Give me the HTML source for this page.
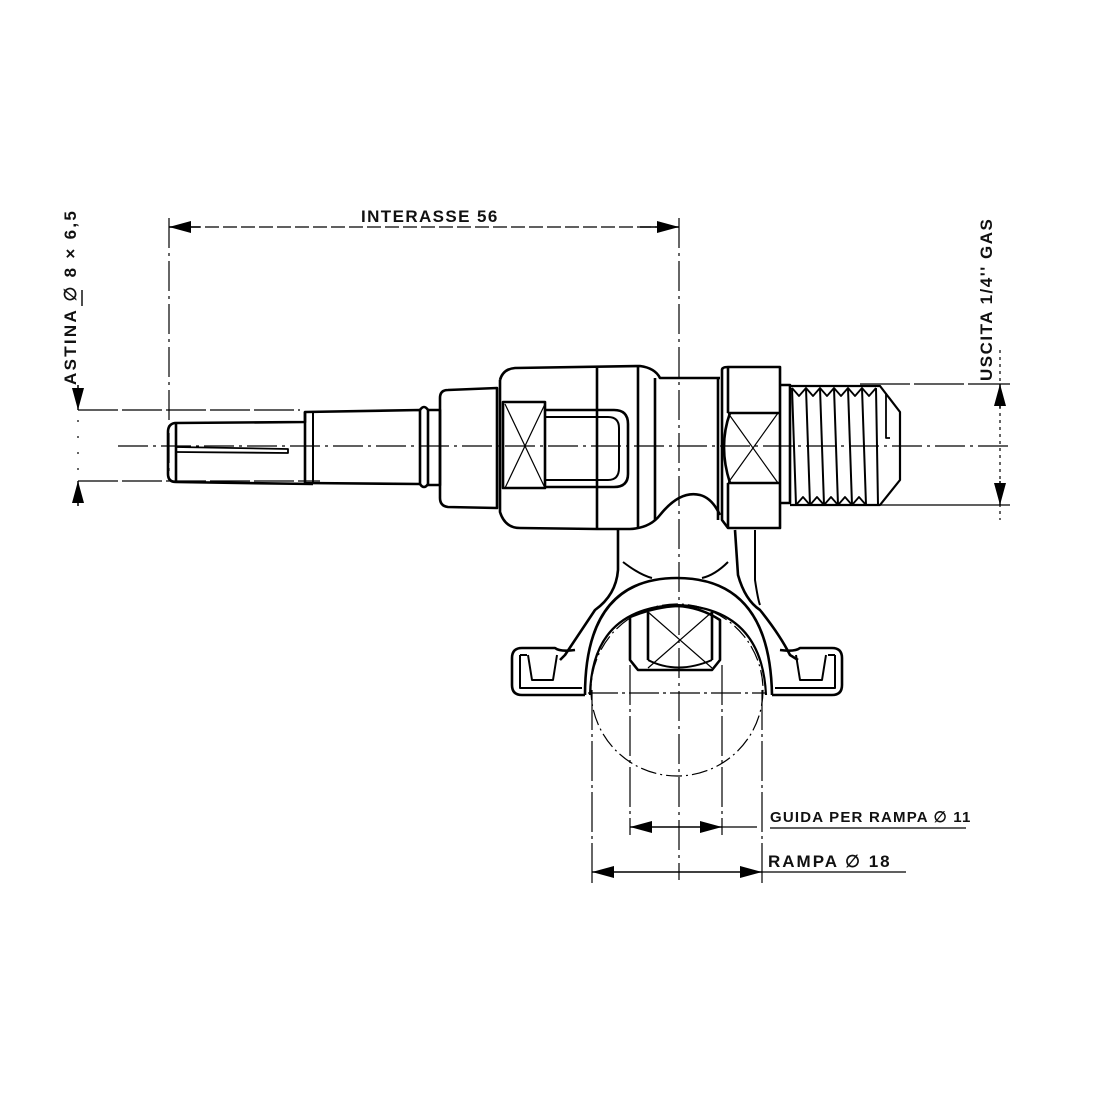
<!DOCTYPE html>
<html><head><meta charset="utf-8"><style>
html,body{margin:0;padding:0;background:#fff}
svg{display:block}
text{font-family:"Liberation Sans",sans-serif;font-weight:bold;fill:#111}
</style></head><body>
<svg width="1100" height="1100" viewBox="0 0 1100 1100" xmlns="http://www.w3.org/2000/svg">
<defs>
<marker id="ar" viewBox="0 0 22 12" refX="22" refY="6" markerWidth="22" markerHeight="12" markerUnits="userSpaceOnUse" orient="auto"><path d="M0,0 L22,6 L0,12 Z" fill="#000"/></marker>
</defs>
<g fill="none" stroke="#000">
<g stroke-width="1.2">
<line x1="169" y1="227" x2="678" y2="227" stroke-dasharray="14,4"/>
<line x1="169" y1="218" x2="169" y2="480" stroke-dasharray="30,5,3,5"/>
<line x1="679" y1="218" x2="679" y2="880" stroke-dasharray="30,5,3,5"/>
<line x1="118" y1="446" x2="1010" y2="446" stroke-dasharray="30,5,3,5"/>
<line x1="78" y1="410" x2="300" y2="410" stroke-dasharray="40,4"/>
<line x1="78" y1="481" x2="320" y2="481" stroke-dasharray="40,4"/>
<line x1="78" y1="420" x2="78" y2="470" stroke-dasharray="2,14"/>
<line x1="860" y1="384" x2="1010" y2="384" stroke-dasharray="50,4"/>
<line x1="860" y1="505" x2="1010" y2="505"/>
<line x1="1000" y1="350" x2="1000" y2="520" stroke-dasharray="3,4"/>
<circle cx="677" cy="690" r="86" stroke-dasharray="16,4,2,4"/>
<line x1="588" y1="693" x2="766" y2="693" stroke-dasharray="30,4,3,4"/>
<line x1="592" y1="690" x2="592" y2="885" stroke-dasharray="40,4,3,4"/>
<line x1="762" y1="690" x2="762" y2="885" stroke-dasharray="40,4,3,4"/>
<line x1="630" y1="665" x2="630" y2="835" stroke-dasharray="40,4,3,4"/>
<line x1="722" y1="665" x2="722" y2="835" stroke-dasharray="40,4,3,4"/>
<line x1="722" y1="827" x2="757" y2="827"/>
<line x1="770" y1="828" x2="966" y2="828"/>
<line x1="762" y1="872" x2="906" y2="872"/>
<path d="M505,404 L545,488 M545,404 L505,488"/>
<path d="M728,413 L778,483 M778,413 L728,483"/>
<path d="M648,612 L712,668 M712,612 L648,668"/>
</g>
<g stroke-width="1.5">
<line x1="200" y1="227" x2="169" y2="227" marker-end="url(#ar)"/>
<line x1="640" y1="227" x2="679" y2="227" marker-end="url(#ar)"/>
<line x1="78" y1="385" x2="78" y2="410" marker-end="url(#ar)"/>
<line x1="78" y1="506" x2="78" y2="481" marker-end="url(#ar)"/>
<line x1="1000" y1="408" x2="1000" y2="384" marker-end="url(#ar)"/>
<line x1="1000" y1="481" x2="1000" y2="505" marker-end="url(#ar)"/>
<line x1="676" y1="827" x2="630" y2="827" marker-end="url(#ar)"/>
<line x1="676" y1="827" x2="722" y2="827" marker-end="url(#ar)"/>
<line x1="677" y1="872" x2="592" y2="872" marker-end="url(#ar)"/>
<line x1="677" y1="872" x2="762" y2="872" marker-end="url(#ar)"/>
</g>
<g stroke-width="2.6" stroke-linejoin="round">
<path d="M305,412 L305,422 L175,423 Q168,424 168,432 L168,474 Q168,482 176,482 L313,484"/>
<path d="M176,423 L176,482"/>
<path d="M176,447 L288,449 L288,453 L176,452" stroke-width="1.8"/>
<path d="M305,412 L420,410 L420,484 L305,483 Z"/>
<path d="M313,411 L313,484" stroke-width="2"/>
<path d="M420,410 Q424,404 428,410 L428,484 Q424,490 420,484"/>
<path d="M428,410 L440,410 L440,485 L428,485"/>
<path d="M440,398 Q440,390 448,390 L497,388 L497,508 L448,507 Q440,506 440,498 Z"/>
<path d="M500,380 Q503,369 515,368 L640,366 Q655,368 660,378 L720,378"/>
<path d="M500,380 L500,512 Q505,528 520,528 L597,529 L630,529 Q650,528 660,515 Q680,490 700,495 Q712,498 720,515"/>
<line x1="597" y1="368" x2="597" y2="529"/>
<line x1="638" y1="367" x2="638" y2="528"/>
<line x1="655" y1="378" x2="655" y2="520"/>
<rect x="503" y="402" width="42" height="86"/>
<path d="M545,410 L614,410 Q628,410 628,424 L628,474 Q628,487 614,487 L545,487"/>
<path d="M545,417 L608,417 Q619,417 619,428 L619,468 Q619,480 608,480 L545,480" stroke-width="2"/>
<line x1="718" y1="378" x2="718" y2="520"/>
<path d="M722,370 Q722,367 728,367 L780,367 L780,528 L728,528 L722,520 Z"/>
<path d="M730,413 Q718,446 730,483"/>
<line x1="728" y1="413" x2="780" y2="413"/>
<line x1="728" y1="483" x2="780" y2="483"/>
<line x1="728" y1="367" x2="728" y2="413"/>
<line x1="728" y1="483" x2="728" y2="528"/>
<path d="M780,385 L790,385 L790,503 L780,503"/>
<path d="M790,386 L880,386 L900,412 L900,480 L880,505 L790,505" stroke-width="2.2"/>
<path d="M792,388 L796,505 M806,388 L810,505 M820,388 L824,505 M834,388 L838,505 M848,388 L852,505 M862,388 L866,505 M876,388 L878,505" stroke-width="2"/>
<path d="M792,388 L799,396 L806,388 L813,396 L820,388 L827,396 L834,388 L841,396 L848,388 L855,396 L862,388 L869,396 L876,388" stroke-width="1.8"/>
<path d="M796,505 L803,497 L810,505 L817,497 L824,505 L831,497 L838,505 L845,497 L852,505 L859,497 L866,505" stroke-width="1.8"/>
<path d="M886,393 L886,438 L890,438" stroke-width="1.8"/>
<path d="M618,530 L618,570 Q616,595 595,610 Q575,640 565,655 L560,660"/>
<path d="M735,530 L738,575 Q745,600 760,610 Q780,635 790,655 L798,660"/>
<path d="M755,530 L755,580 Q758,600 760,605" stroke-width="2"/>
<path d="M623,562 Q640,575 652,578" stroke-width="2"/>
<path d="M702,578 Q715,575 728,562" stroke-width="2"/>
<path d="M585,695 Q585,578 677,578 Q770,578 772,695"/>
<path d="M590,695 Q592,608 677,605 Q762,608 766,695" stroke-width="2.2"/>
<path d="M585,695 L522,695 Q512,695 512,685 L512,658 Q512,648 522,648 L555,648 Q560,652 575,650"/>
<path d="M520,655 L520,688 L582,688 M527,655 L520,655" stroke-width="2"/>
<path d="M528,655 L532,680 L553,680 L557,655" stroke-width="2"/>
<path d="M772,695 L832,695 Q842,695 842,685 L842,658 Q842,648 832,648 L800,648 Q795,652 780,650"/>
<path d="M835,655 L835,688 L775,688 M828,655 L835,655" stroke-width="2"/>
<path d="M796,655 L800,680 L822,680 L826,655" stroke-width="2"/>
<path d="M630,617 L630,660 L638,670 L712,670 L720,660 L720,620 Q700,607 677,606 Q655,607 630,617 Z"/>
<line x1="648" y1="612" x2="648" y2="660"/>
<line x1="712" y1="612" x2="712" y2="660"/>
<path d="M648,660 Q677,675 712,660" stroke-width="2"/>
</g>
</g>
<text x="361" y="222" font-size="17" letter-spacing="1.4">INTERASSE 56</text>
<text transform="translate(76,385) rotate(-90)" font-size="17" letter-spacing="2.3">ASTINA ∅ 8 × 6,5</text>
<line x1="82" y1="290" x2="82" y2="306" stroke="#000" stroke-width="1.4"/>
<text transform="translate(992,381) rotate(-90)" font-size="17" letter-spacing="1.5">USCITA 1/4'' GAS</text>
<text x="770" y="822" font-size="15" letter-spacing="1.2">GUIDA PER RAMPA ∅ 11</text>
<text x="768" y="867" font-size="17" letter-spacing="2">RAMPA ∅ 18</text>
</svg>
</body></html>
